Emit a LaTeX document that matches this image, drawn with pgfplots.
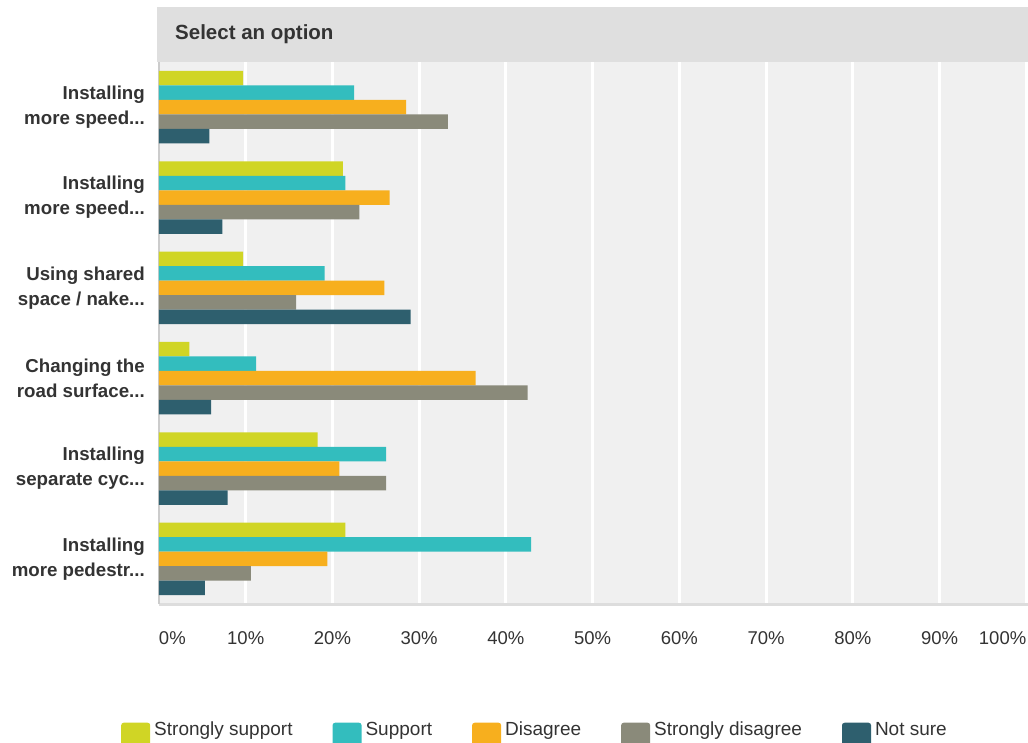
\documentclass[border=0pt]{standalone}
\usepackage{pgfplots}
\pgfplotsset{compat=1.18}
\usepackage{fontspec}
\setmainfont{Liberation Sans}

\definecolor{cSS}{HTML}{D0D525}
\definecolor{cS}{HTML}{33BDBE}
\definecolor{cD}{HTML}{F7AF1E}
\definecolor{cSD}{HTML}{8A8A7A}
\definecolor{cNS}{HTML}{2E5F6E}
\definecolor{txt}{HTML}{333333}
\definecolor{hdr}{HTML}{DFDFDF}
\definecolor{plotbg}{HTML}{F0F0F0}
\definecolor{xline}{HTML}{DDDDDD}
\definecolor{yline}{HTML}{CCCCCC}

% three dots, kept out of \foreach's reach
\newcommand{\el}{.\kern0pt.\kern0pt.}

\begin{document}
\begin{tikzpicture}
\path[use as bounding box] (0pt,0pt) rectangle (1028pt,-742pt);
% header band
\fill[hdr] (157pt,-7pt) rectangle (1028pt,-62pt);
\node[anchor=west, inner sep=0pt, text=txt, font=\fontsize{20.5}{24}\selectfont\bfseries] at (175pt,-34pt) {Select an option};

\begin{axis}[
    at={(159pt,-604pt)}, anchor=south west,
    scale only axis, width=869pt, height=542pt,
    xbar=0pt, bar width=14.5pt,
    xmin=0, xmax=100.2, ymin=-0.5, ymax=5.5,
    axis background/.style={fill=plotbg},
    axis x line*=bottom, axis y line*=left,
    x axis line style={draw=xline, line width=3pt, -},
    y axis line style={draw=yline, line width=2pt, -},
    major tick length=0pt,
    xmajorgrids, grid style={white, line width=3pt},
    xtick={0,10,20,30,40,50,60,70,80,90,100},
    xticklabels={\makebox[0pt][l]{0\%},10\%,20\%,30\%,40\%,50\%,60\%,70\%,80\%,90\%,\makebox[0pt][r]{100\%}},
    xticklabel style={anchor=base, yshift=-40pt, inner sep=0pt, text=txt, font=\fontsize{18.5}{22}\selectfont},
    ytick={0,1,2,3,4,5},
    yticklabels={{Installing\\more pedestr\el},{Installing\\separate cyc\el},{Changing the\\road surface\el},{Using shared\\space / nake\el},{Installing\\more speed\el},{Installing\\more speed\el}},
    yticklabel style={align=right, inner sep=0pt, xshift=-14pt, text=txt, font=\fontsize{18.7}{25}\selectfont\bfseries},
    legend style={draw=none, fill=none, inner sep=0pt,
        at={(-0.0437,-0.2405)}, anchor=west,
        font=\fontsize{19}{22}\selectfont, text=txt,
        nodes={inner sep=0pt},
        cells={anchor=base west},
        /tikz/every odd column/.append style={column sep=4pt},
        /tikz/every even column/.append style={column sep=40pt}},
    legend columns=-1,
    legend image code/.code={\fill[#1, draw=none, rounded corners=2.5pt] (0pt,-11pt) rectangle (29pt,13pt);},
]
\addplot[fill=cSS, draw=none, bar shift=29pt] coordinates {(9.7,5) (21.2,4) (9.7,3) (3.5,2) (18.3,1) (21.5,0)};
\addplot[fill=cS, draw=none, bar shift=14.5pt] coordinates {(22.5,5) (21.5,4) (19.1,3) (11.2,2) (26.2,1) (42.9,0)};
\addplot[fill=cD, draw=none, bar shift=0pt] coordinates {(28.5,5) (26.6,4) (26.0,3) (36.5,2) (20.8,1) (19.4,0)};
\addplot[fill=cSD, draw=none, bar shift=-14.5pt] coordinates {(33.3,5) (23.1,4) (15.8,3) (42.5,2) (26.2,1) (10.6,0)};
\addplot[fill=cNS, draw=none, bar shift=-29pt] coordinates {(5.8,5) (7.3,4) (29.0,3) (6.0,2) (7.9,1) (5.3,0)};
\legend{Strongly support, Support, Disagree, Strongly disagree, Not sure}
\end{axis}
\end{tikzpicture}
\end{document}
